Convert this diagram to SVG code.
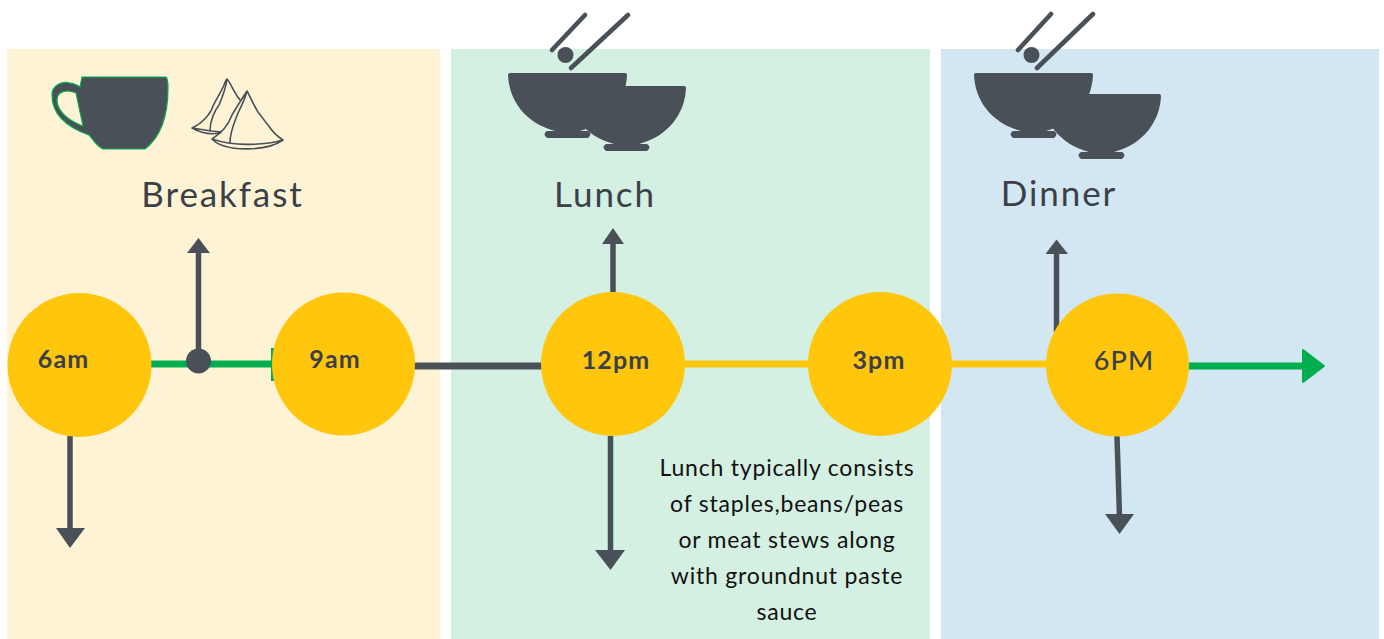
<svg xmlns="http://www.w3.org/2000/svg" width="1384" height="639" viewBox="0 0 1384 639">
<style>
.ink{fill:#4a5058}
.cup{fill:#4a5058;stroke:#00ae4f;stroke-width:1.2}
.stk{fill:none;stroke:#4a5058;stroke-width:4.6;stroke-linecap:round}
.sam{fill:none;stroke:#4a5058;stroke-width:1.6;stroke-linejoin:round;stroke-linecap:round}
.dot{fill:#ffc60b}
.lb{font-family:"Lato","Noto Sans",sans-serif;font-size:25px;fill:#3b4048;text-anchor:middle;letter-spacing:1.1px;font-weight:700}
.h{font-family:"Lato","Noto Sans",sans-serif;font-size:35px;fill:#3b4048;text-anchor:middle;letter-spacing:1.9px}
.p{font-family:"Lato","Noto Sans",sans-serif;font-size:23px;fill:#111;text-anchor:middle;letter-spacing:.8px}
.ln{fill:none;stroke-width:7}
.ar{fill:none;stroke:#4a5058;stroke-width:5.500}
</style>
<defs>
<g id="bowl"><path d="M0 2Q0 0 2 0H117Q119 0 119 2C118 27 102 50 72 58H80Q85 61 80 65H39Q34 61 39 58H47C17 50 1 27 0 2Z"/></g>
</defs>
<rect width="1384" height="639" fill="#fff"/>
<rect id="panel-breakfast" x="7" y="49" width="433" height="590" fill="#fff3d6"/>
<rect id="panel-lunch" x="451" y="49" width="479" height="590" fill="#d4f0e2"/>
<rect id="panel-dinner" x="941" y="49" width="438" height="590" fill="#d3e7f3"/>

<g id="connectors">
<rect x="271" y="348" width="6" height="33" fill="#00ae4f"/>
<path class="ln" stroke="#00ae4f" d="M150 364H275"/>
<path class="ln" stroke="#4a5058" d="M414 366H545"/>
<path class="ln" stroke="#ffc60b" d="M684 364H810M950 364H1050"/>
<path class="ln" stroke="#00ae4f" d="M1188 366H1305"/>
<path fill="#00ae4f" stroke="#00ae4f" stroke-width="2" stroke-linejoin="round" d="M1303 350L1324 366L1303 382Z"/>
<path class="ar" d="M198.500 350V250"/>
<path class="ink" d="M198.500 238L210 253H187Z"/>
<circle class="ink" cx="198.500" cy="361" r="12.500"/>
<path class="ar" d="M70 436V532"/>
<path class="ink" d="M56 528H85L70 548Z"/>
<path class="ar" d="M613 293V240"/>
<path class="ink" d="M613 228L624 244H602Z"/>
<path class="ar" d="M610.500 436V552"/>
<path class="ink" d="M595 550H625L610.500 570Z"/>
<path class="ar" d="M1056.500 332V250"/>
<path class="ink" d="M1056.500 239.500L1068 254H1045.500Z"/>
<path class="ar" d="M1117 436L1119.500 517"/>
<path class="ink" d="M1105 514H1134L1119.500 534Z"/>
</g>

<g id="node-6am"><circle class="dot" cx="79.500" cy="365" r="72"/><text class="lb" x="63.500" y="368">6am</text></g>
<g id="node-9am"><circle class="dot" cx="343.500" cy="364" r="71.500"/><text class="lb" x="335" y="368">9am</text></g>
<g id="node-12pm"><circle class="dot" cx="613" cy="364" r="72"/><text class="lb" x="616" y="369">12pm</text></g>
<g id="node-3pm"><circle class="dot" cx="880" cy="364" r="72"/><text class="lb" x="879" y="369">3pm</text></g>
<g id="node-6pm"><circle class="dot" cx="1117.500" cy="365" r="71.500"/><text class="lb" x="1124" y="370" style="font-size:27px;font-weight:500">6PM</text></g>

<g id="icon-cup">
<path class="cup" fill-rule="evenodd" d="M82 77H166Q168 79 168 88C168 112 162 136 145 149H103C96 146 93 139 89 135C72 129 52 118 52 95C52 85 62 81 70 83C75 84 78 85 80 87ZM76 93C67 89 57 91 57 100C57 113 72 122 83 126Z"/>
</g>
<g id="icon-samosa">
<path class="sam" d="M192 128C203 123 211 113 213 106C216 100 222 90 224 85Q226 79 227 79C230 82 233 90 236 94C237 97 239 98 240 100M192 128C199 132 209 135 220 133M192 128L211 131M211 131L221 132M210 131C210 120 215 110 219 105C222 98 226 88 227 79"/>
<path class="sam" d="M212 139C222 132 228 126 232 115C238 105 243 97 247 91C250 96 254 106 258 112C263 118 265 122 268 125C272 131 278 137 283 140C262 146 232 146 212 139ZM212 139C224 152 266 152 283 140M230 143C230 131 235 121 238 113C241 107 245 99 247 91"/>
</g>
<g id="icon-bowls-lunch">
<use href="#bowl" class="ink" x="508" y="73"/>
<use href="#bowl" class="ink" x="567" y="86"/>
<path class="stk" d="M552 50L585 15M571 68L628 15"/>
<circle class="ink" cx="565.500" cy="55" r="8"/>
</g>
<g id="icon-bowls-dinner">
<use href="#bowl" class="ink" x="974" y="73"/>
<use href="#bowl" class="ink" x="1042" y="94"/>
<path class="stk" d="M1018 50L1051 14M1037 68L1093 14"/>
<circle class="ink" cx="1031.500" cy="55" r="8"/>
</g>

<g id="label-breakfast"><text class="h" x="222.500" y="207">Breakfast</text></g>
<g id="label-lunch"><text class="h" x="605" y="207">Lunch</text></g>
<g id="label-dinner"><text class="h" x="1059" y="206">Dinner</text></g>
<g id="note-lunch">
<text class="p" x="787" y="476">Lunch typically consists</text>
<text class="p" x="787" y="512">of staples,beans/peas</text>
<text class="p" x="787" y="548">or meat stews along</text>
<text class="p" x="787" y="584">with groundnut paste</text>
<text class="p" x="787" y="620">sauce</text>
</g>
</svg>
